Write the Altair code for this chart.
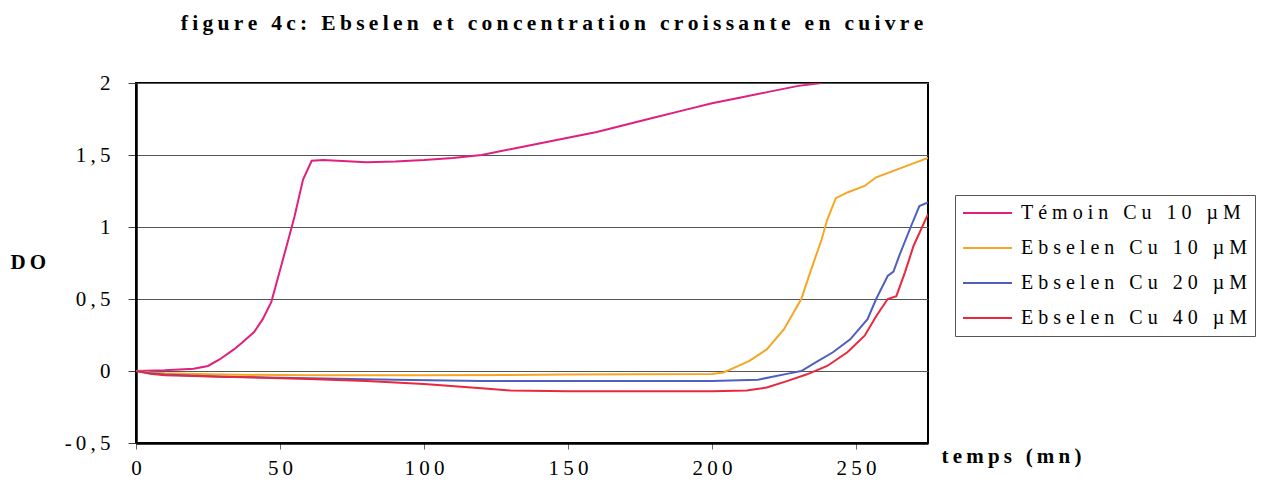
import altair as alt
import pandas as pd

# ---------------- data ----------------
series = ["Témoin Cu 10 µM", "Ebselen Cu 10 µM", "Ebselen Cu 20 µM", "Ebselen Cu 40 µM"]
colors = ["#E0207E", "#F5A623", "#4F5FC0", "#E8283C"]

t_temoin = [0, 10, 20, 25, 29, 34, 37, 41, 44, 47, 50, 53, 55, 58, 61, 65, 70, 80, 90,
            100, 110, 120, 130, 140, 150, 160, 170, 180, 190, 200, 210, 220, 230, 238]
y_temoin = [0, 0.005, 0.015, 0.035, 0.08, 0.15, 0.2, 0.27, 0.36, 0.48, 0.7, 0.92, 1.07, 1.33,
            1.46, 1.465, 1.46, 1.45, 1.455, 1.465, 1.48, 1.5, 1.54, 1.58, 1.62, 1.66, 1.71,
            1.76, 1.81, 1.86, 1.9, 1.94, 1.98, 2.0]

t_eb10 = [0, 5, 10, 30, 60, 100, 150, 200, 204, 208, 213, 219, 225, 231, 234, 238, 240, 243,
          247, 253, 257, 263, 269, 275]
y_eb10 = [0, -0.01, -0.015, -0.025, -0.03, -0.03, -0.025, -0.02, -0.01, 0.025, 0.07, 0.15,
          0.29, 0.5, 0.68, 0.91, 1.05, 1.2, 1.24, 1.285, 1.345, 1.39, 1.435, 1.48]

t_eb20 = [0, 5, 10, 30, 60, 90, 120, 150, 200, 216, 226, 231, 236, 242, 248, 254, 257, 261,
          263, 265, 269, 272, 275]
y_eb20 = [0, -0.015, -0.025, -0.04, -0.05, -0.06, -0.07, -0.07, -0.07, -0.06, -0.02, 0, 0.06,
          0.13, 0.22, 0.36, 0.5, 0.66, 0.69, 0.8, 1.0, 1.145, 1.17]

t_eb40 = [0, 5, 10, 30, 60, 80, 100, 120, 130, 150, 200, 212, 219, 226, 233, 240, 247, 253,
          257, 261, 264, 267, 270, 275]
y_eb40 = [0, -0.02, -0.03, -0.04, -0.055, -0.07, -0.09, -0.12, -0.135, -0.14, -0.14, -0.135,
          -0.115, -0.07, -0.023, 0.035, 0.13, 0.245, 0.38, 0.5, 0.52, 0.685, 0.87, 1.09]

x_ticks = [0, 50, 100, 150, 200, 250]
y_ticks = [-0.5, 0, 0.5, 1, 1.5, 2]

title_text = "figure 4c: Ebselen et concentration croissante en cuivre"
x_title = "temps (mn)"
y_title = "DO"

# ---------------- table ----------------
rows = []
for name, ts, ys in zip(series, [t_temoin, t_eb10, t_eb20, t_eb40],
                        [y_temoin, y_eb10, y_eb20, y_eb40]):
    for i, (t, y) in enumerate(zip(ts, ys)):
        rows.append({"serie": name, "t": t, "do": y, "i": i})
df = pd.DataFrame(rows)

THIN = "\u2009"
NBSP = "\u00a0"


def spaced(s, sep=THIN):
    return (sep + " " + sep).join(sep.join(w) for w in s.split(" "))


FONT = "Liberation Serif, Times New Roman, Times, serif"

x_axis = alt.Axis(
    values=x_ticks,
    labelExpr=f"join(split(toString(datum.value), ''), '{THIN}')",
    labelFont=FONT, labelFontSize=21, labelColor="black",
    labelBaseline="alphabetic", labelPadding=25, labelOverlap=False,
    labelFlush=False, labelBound=False,
    tickSize=6, tickColor="#666", tickWidth=1,
    domainColor="black", domainWidth=2.5,
    grid=False,
    title=spaced(x_title), titleFont=FONT, titleFontSize=21, titleFontWeight="bold",
    titleColor="black", titleX=805, titleY=19, titleAlign="left",
    titleBaseline="alphabetic", titleAngle=0,
)

y_axis = alt.Axis(
    values=y_ticks,
    labelExpr=f"join(split(replace(toString(datum.value), '.', ','), ''), '{THIN}')",
    labelFont=FONT, labelFontSize=21, labelColor="black",
    labelPadding=18, labelOverlap=False, labelFlush=False, labelBound=False,
    tickSize=8, tickColor="#444", tickWidth=1,
    domainColor="black", domainWidth=2.5,
    grid=True, gridColor="#555", gridWidth=1,
    title=spaced(y_title), titleFont=FONT, titleFontSize=21, titleFontWeight="bold",
    titleColor="black", titleAngle=0, titleX=-126, titleY=179, titleAlign="left",
    titleBaseline="middle",
)

legend = alt.Legend(
    title=None, orient="none", legendX=819, legendY=112,
    symbolType="M-3.0625,0L3.0625,0", symbolSize=256, symbolStrokeWidth=2,
    symbolOffset=14.5, labelOffset=23.5, rowPadding=15, padding=8,
    strokeColor="#555", fillColor="white",
    labelFont=FONT, labelFontSize=20, labelColor="black", labelLimit=0,
    labelExpr=(f"(indexof(datum.label, 'T') == 0 ? '{NBSP}{NBSP}' : '') + "
               f"join(split(datum.label, ''), '{NBSP}') + '{NBSP}{NBSP}'"),
)

chart = alt.Chart(df).mark_line(strokeWidth=2, clip=True).encode(
    x=alt.X("t:Q", scale=alt.Scale(domain=[0, 275], nice=False, zero=False), axis=x_axis),
    y=alt.Y("do:Q", scale=alt.Scale(domain=[-0.5, 2], nice=False, zero=False), axis=y_axis),
    color=alt.Color("serie:N", scale=alt.Scale(domain=series, range=colors), legend=legend),
    order=alt.Order("i:Q"),
).properties(
    width=792, height=360,
    title=alt.TitleParams(
        text=spaced(title_text), font=FONT, fontSize=21.5, fontWeight="bold", color="black",
        anchor="middle", offset=38, dx=20,
    ),
    padding={"left": 128, "top": 75, "right": 345, "bottom": 37},
    autosize=alt.AutoSizeParams(type="none"),
    background="white",
).configure_view(stroke="black", strokeWidth=2)

chart.save("out.html", embed_options={"renderer": "svg", "actions": False})
